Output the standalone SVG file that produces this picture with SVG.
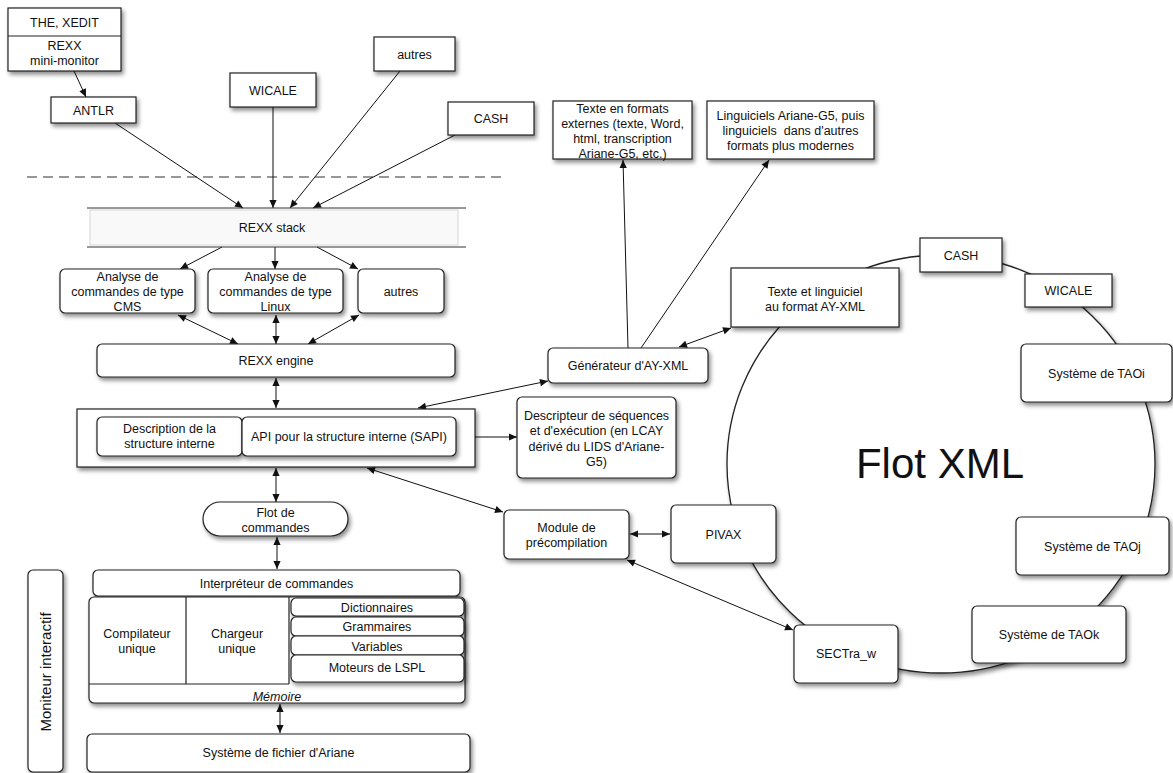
<svg xmlns="http://www.w3.org/2000/svg" width="1173" height="773" viewBox="0 0 1173 773">
<defs>
<filter id="sh" x="-10%" y="-10%" width="130%" height="140%">
<feDropShadow dx="2" dy="3" stdDeviation="2" flood-color="#000" flood-opacity="0.45"/>
</filter>
<marker id="ah" viewBox="0 0 10 10" refX="10" refY="5" markerWidth="9" markerHeight="8" markerUnits="userSpaceOnUse" orient="auto-start-reverse">
<path d="M0,0.5 L10,5 L0,9.5 z" fill="#111"/>
</marker>
</defs>
<style>
.box { fill: #fff; stroke: #222; stroke-width: 1.2; filter: url(#sh); }
.plain { fill: none; stroke: #222; stroke-width: 1.2; }
.t { font-family: "Liberation Sans", Arial, sans-serif; font-size: 12.5px; fill: #111; text-anchor: middle; }
.c { stroke: #111; stroke-width: 1; fill: none; }
.one { marker-end: url(#ah); }
.two { marker-start: url(#ah); marker-end: url(#ah); }
</style>
<rect width="1173" height="773" fill="#fff"/>

<g id="flot-xml-circle">
<ellipse cx="941" cy="464" rx="214" ry="209" fill="#fff" stroke="#222" stroke-width="1.3" filter="url(#sh)"/>
<text x="940" y="478" font-family="Liberation Sans, Arial, sans-serif" font-size="42" fill="#111" text-anchor="middle">Flot XML</text>
</g>

<g id="separator">
<line x1="27" y1="177" x2="503" y2="177" stroke="#333" stroke-width="1.2" stroke-dasharray="10 6"/>
</g>

<g id="connectors">
<line class="c one" x1="74" y1="71" x2="86" y2="97"/>
<line class="c one" x1="115" y1="123" x2="243" y2="208"/>
<line class="c one" x1="273" y1="107" x2="273" y2="208"/>
<line class="c one" x1="400" y1="71" x2="290" y2="208"/>
<line class="c one" x1="455" y1="135" x2="313" y2="208"/>
<line class="c one" x1="222" y1="247" x2="180" y2="269"/>
<line class="c one" x1="275" y1="247" x2="275" y2="269"/>
<line class="c one" x1="317" y1="247" x2="358" y2="269"/>
<line class="c two" x1="178" y1="315" x2="238" y2="344"/>
<line class="c two" x1="276" y1="315" x2="276" y2="344"/>
<line class="c two" x1="359" y1="315" x2="308" y2="344"/>
<line class="c two" x1="276" y1="378" x2="276" y2="408"/>
<line class="c two" x1="548" y1="381" x2="418" y2="408"/>
<line class="c one" x1="475" y1="437" x2="517" y2="437"/>
<line class="c two" x1="367" y1="468" x2="503" y2="512"/>
<line class="c two" x1="276" y1="468" x2="276" y2="502"/>
<line class="c two" x1="277" y1="537" x2="277" y2="569"/>
<line class="c two" x1="280" y1="704" x2="280" y2="733"/>
<line class="c one" x1="628" y1="348" x2="623" y2="160"/>
<line class="c one" x1="641" y1="348" x2="769" y2="160"/>
<line class="c two" x1="679" y1="347" x2="731" y2="328"/>
<line class="c two" x1="630" y1="534" x2="670" y2="534"/>
<line class="c two" x1="627" y1="560" x2="793" y2="630"/>
</g>

<g id="the-xedit">
<rect class="box" x="8" y="8" width="113" height="63"/>
<line class="plain" x1="8" y1="36" x2="121" y2="36"/>
<text class="t" x="64.5" y="26.5">THE, XEDIT</text>
<text class="t" x="64.5" y="50">REXX</text>
<text class="t" x="64.5" y="65">mini-monitor</text>
</g>
<g id="antlr">
<rect class="box" x="51" y="97" width="85" height="26"/>
<text class="t" x="93.5" y="114.5">ANTLR</text>
</g>
<g id="wicale-top">
<rect class="box" x="230" y="73" width="86" height="34"/>
<text class="t" x="273" y="94.5">WICALE</text>
</g>
<g id="autres-top">
<rect class="box" x="374" y="37" width="81" height="34"/>
<text class="t" x="414.5" y="58.5">autres</text>
</g>
<g id="cash-top">
<rect class="box" x="448" y="102" width="86" height="33"/>
<text class="t" x="491" y="123">CASH</text>
</g>

<g id="rexx-stack">
<rect x="90" y="210" width="368" height="35" fill="#f9f9f9" stroke="#e2e2e2" stroke-width="1.5"/>
<line x1="87" y1="208" x2="466" y2="208" stroke="#333" stroke-width="1"/>
<line x1="87" y1="247" x2="466" y2="247" stroke="#333" stroke-width="1"/>
<text class="t" x="272" y="231.5">REXX stack</text>
</g>

<g id="analyse-cms">
<rect class="box" x="60" y="269" width="135" height="44" rx="5"/>
<text class="t" x="127.5" y="280.5">Analyse de</text>
<text class="t" x="127.5" y="295.5">commandes de type</text>
<text class="t" x="127.5" y="310.5">CMS</text>
</g>
<g id="analyse-linux">
<rect class="box" x="208" y="269" width="135" height="44" rx="5"/>
<text class="t" x="275.5" y="280.5">Analyse de</text>
<text class="t" x="275.5" y="295.5">commandes de type</text>
<text class="t" x="275.5" y="310.5">Linux</text>
</g>
<g id="autres-mid">
<rect class="box" x="358" y="269" width="86" height="44" rx="5"/>
<text class="t" x="401" y="295.5">autres</text>
</g>
<g id="rexx-engine">
<rect class="box" x="97" y="344" width="358" height="33" rx="5"/>
<text class="t" x="276" y="365">REXX engine</text>
</g>

<g id="structure-container">
<rect class="box" x="77" y="409" width="398" height="58"/>
</g>
<g id="description-structure">
<rect class="box" x="97" y="417" width="145" height="39" rx="5"/>
<text class="t" x="169.5" y="432.5">Description de la</text>
<text class="t" x="169.5" y="447.5">structure interne</text>
</g>
<g id="sapi">
<rect class="box" x="242" y="417" width="214" height="39" rx="5"/>
<text class="t" x="349" y="441">API pour la structure interne (SAPI)</text>
</g>

<g id="flot-commandes">
<rect class="box" x="203" y="502" width="145" height="34" rx="17"/>
<text class="t" x="275.5" y="516.5">Flot de</text>
<text class="t" x="275.5" y="531.5">commandes</text>
</g>

<g id="moniteur-interactif">
<rect class="box" x="28" y="570" width="35" height="202" rx="5"/>
<text x="0" y="0" transform="translate(51,672) rotate(-90)" font-family="Liberation Sans, Arial, sans-serif" font-size="15" fill="#111" text-anchor="middle">Moniteur interactif</text>
</g>

<g id="interpreteur">
<rect class="box" x="93" y="570" width="367" height="26" rx="5"/>
<text class="t" x="276.5" y="587.5">Interpréteur de commandes</text>
</g>

<g id="memoire">
<rect class="box" x="89" y="597" width="376" height="106" rx="5"/>
<line class="plain" x1="186" y1="597" x2="186" y2="684"/>
<line class="plain" x1="289" y1="597" x2="289" y2="684"/>
<line class="plain" x1="89" y1="684" x2="289" y2="684"/>
<text class="t" x="137" y="637.5">Compilateur</text>
<text class="t" x="137" y="652.5">unique</text>
<text class="t" x="237" y="637.5">Chargeur</text>
<text class="t" x="237" y="652.5">unique</text>
<text class="t" x="277" y="700.5" font-style="italic">Mémoire</text>
</g>
<g id="dictionnaires">
<rect class="box" x="291" y="598" width="173" height="18" rx="5"/>
<text class="t" x="377" y="611.5">Dictionnaires</text>
</g>
<g id="grammaires">
<rect class="box" x="291" y="617" width="173" height="19" rx="5"/>
<text class="t" x="377" y="631">Grammaires</text>
</g>
<g id="variables">
<rect class="box" x="291" y="636" width="173" height="19" rx="5"/>
<text class="t" x="377" y="650.5">Variables</text>
</g>
<g id="moteurs-lspl">
<rect class="box" x="291" y="655" width="173" height="27" rx="5"/>
<text class="t" x="377" y="671.5">Moteurs de LSPL</text>
</g>

<g id="systeme-fichier">
<rect class="box" x="87" y="734" width="383" height="38" rx="5"/>
<text class="t" x="278.5" y="756.5">Système de fichier d'Ariane</text>
</g>

<g id="texte-formats-externes">
<rect class="box" x="553" y="101" width="139" height="58"/>
<text class="t" x="622.5" y="112.5">Texte en formats</text>
<text class="t" x="622.5" y="127.5">externes (texte, Word,</text>
<text class="t" x="622.5" y="142.5">html, transcription</text>
<text class="t" x="622.5" y="157.5">Ariane-G5, etc.)</text>
</g>
<g id="linguiciels">
<rect class="box" x="707" y="101" width="167" height="58"/>
<text class="t" x="790.5" y="119.5">Linguiciels Ariane-G5, puis</text>
<text class="t" x="790.5" y="134.5">linguiciels&#160; dans d'autres</text>
<text class="t" x="790.5" y="149.5">formats plus modernes</text>
</g>
<g id="texte-ay-xml">
<rect class="box" x="731" y="268" width="168" height="59"/>
<text class="t" x="815" y="295.5">Texte et linguiciel</text>
<text class="t" x="815" y="310.5">au format AY-XML</text>
</g>
<g id="generateur">
<rect class="box" x="548" y="348" width="160" height="35" rx="5"/>
<text class="t" x="628" y="370">Générateur d'AY-XML</text>
</g>
<g id="descripteur">
<rect class="box" x="517" y="397" width="159" height="81" rx="5"/>
<text class="t" x="596.5" y="419.5">Descripteur de séquences</text>
<text class="t" x="596.5" y="435">et d'exécution (en LCAY</text>
<text class="t" x="596.5" y="450.5">dérivé du LIDS d'Ariane-</text>
<text class="t" x="596.5" y="466">G5)</text>
</g>
<g id="module-precompilation">
<rect class="box" x="504" y="510" width="125" height="49" rx="5"/>
<text class="t" x="566.5" y="531.5">Module de</text>
<text class="t" x="566.5" y="546.5">précompilation</text>
</g>
<g id="pivax">
<rect class="box" x="671" y="505" width="105" height="58" rx="5"/>
<text class="t" x="723.5" y="538.5">PIVAX</text>
</g>
<g id="sectra">
<rect class="box" x="794" y="625" width="104" height="58" rx="5"/>
<text class="t" x="846" y="658">SECTra_w</text>
</g>
<g id="tao-k">
<rect class="box" x="972" y="606" width="154" height="57" rx="5"/>
<text class="t" x="1049" y="638.5">Système de TAOk</text>
</g>
<g id="tao-j">
<rect class="box" x="1016" y="517" width="153" height="58" rx="5"/>
<text class="t" x="1092.5" y="550.5">Système de TAOj</text>
</g>
<g id="tao-i">
<rect class="box" x="1021" y="344" width="151" height="58" rx="5"/>
<text class="t" x="1096.5" y="377.5">Système de TAOi</text>
</g>
<g id="cash-right">
<rect class="box" x="920" y="238" width="82" height="34"/>
<text class="t" x="961" y="259.5">CASH</text>
</g>
<g id="wicale-right">
<rect class="box" x="1025" y="274" width="87" height="33"/>
<text class="t" x="1068.5" y="295">WICALE</text>
</g>
</svg>
